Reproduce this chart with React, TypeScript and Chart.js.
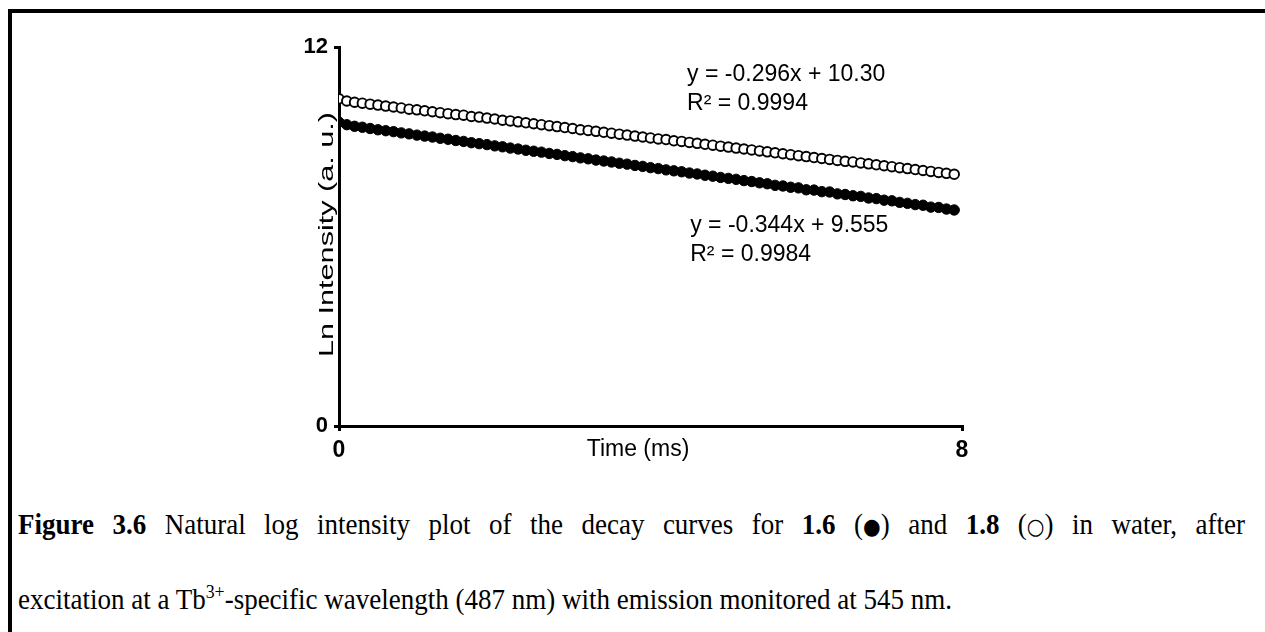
import React, { useEffect, useRef } from "react";
import { Chart, registerables } from "chart.js";

Chart.register(...registerables);

const timeMs = [
  0.0, 0.1, 0.2, 0.3, 0.4, 0.5, 0.6, 0.7, 0.8, 0.9,
  1.0, 1.1, 1.2, 1.3, 1.4, 1.5, 1.6, 1.7, 1.8, 1.9,
  2.0, 2.1, 2.2, 2.3, 2.4, 2.5, 2.6, 2.7, 2.8, 2.9,
  3.0, 3.1, 3.2, 3.3, 3.4, 3.5, 3.6, 3.7, 3.8, 3.9,
  4.0, 4.1, 4.2, 4.3, 4.4, 4.5, 4.6, 4.7, 4.8, 4.9,
  5.0, 5.1, 5.2, 5.3, 5.4, 5.5, 5.6, 5.7, 5.8, 5.9,
  6.0, 6.1, 6.2, 6.3, 6.4, 6.5, 6.6, 6.7, 6.8, 6.9,
  7.0, 7.1, 7.2, 7.3, 7.4, 7.5, 7.6, 7.7, 7.8, 7.9,
];

// 1.8 (open circles)
const lnIntensityOpen = [
  10.36, 10.29, 10.25, 10.22, 10.19, 10.16, 10.13, 10.10, 10.07, 10.03,
  10.01, 9.98, 9.95, 9.92, 9.89, 9.86, 9.84, 9.80, 9.78, 9.75,
  9.72, 9.68, 9.66, 9.63, 9.60, 9.57, 9.54, 9.51, 9.48, 9.45,
  9.42, 9.38, 9.36, 9.33, 9.30, 9.27, 9.24, 9.21, 9.18, 9.15,
  9.12, 9.09, 9.07, 9.03, 9.01, 8.98, 8.95, 8.92, 8.89, 8.86,
  8.83, 8.80, 8.77, 8.74, 8.71, 8.68, 8.65, 8.62, 8.59, 8.56,
  8.53, 8.50, 8.47, 8.44, 8.41, 8.38, 8.36, 8.33, 8.30, 8.27,
  8.24, 8.21, 8.18, 8.15, 8.12, 8.09, 8.06, 8.03, 8.00, 7.97,
];

// 1.6 (filled circles)
const lnIntensityFilled = [
  9.62, 9.54, 9.49, 9.46, 9.42, 9.38, 9.35, 9.32, 9.28, 9.25,
  9.21, 9.18, 9.15, 9.11, 9.08, 9.04, 9.01, 8.97, 8.94, 8.91,
  8.87, 8.84, 8.80, 8.77, 8.73, 8.70, 8.67, 8.63, 8.60, 8.56,
  8.53, 8.49, 8.46, 8.42, 8.39, 8.36, 8.32, 8.29, 8.25, 8.22,
  8.18, 8.15, 8.11, 8.08, 8.05, 8.01, 7.98, 7.94, 7.91, 7.87,
  7.84, 7.81, 7.77, 7.74, 7.70, 7.67, 7.62, 7.60, 7.56, 7.54,
  7.48, 7.47, 7.42, 7.41, 7.35, 7.33, 7.29, 7.27, 7.22, 7.20,
  7.15, 7.13, 7.08, 7.05, 7.01, 6.99, 6.93, 6.92, 6.87, 6.84,
];

const xTicks = [0, 8];
const yTicks = [0, 12];
const xTitle = "Time (ms)";
const yTitle = "Ln Intensity (a. u.)";

const fitLabels = [
  { lines: ["y = -0.296x + 10.30", "R² = 0.9994"], x: 4.47, y: 11.12 },
  { lines: ["y = -0.344x + 9.555", "R² = 0.9984"], x: 4.51, y: 6.34 },
];

const ARIAL = "Arial, 'Liberation Sans', sans-serif";

const textPlugin = {
  id: "texts",
  afterDatasetsDraw(chart: any) {
    const { ctx, scales, chartArea } = chart;
    ctx.save();
    ctx.fillStyle = "#000";
    // equations
    ctx.font = `23px ${ARIAL}`;
    ctx.textBaseline = "middle";
    ctx.textAlign = "left";
    fitLabels.forEach((f) => {
      const px = scales.x.getPixelForValue(f.x);
      const py = scales.y.getPixelForValue(f.y);
      f.lines.forEach((t, i) => ctx.fillText(t, px, py + i * 29));
    });
    // x title
    ctx.textAlign = "center";
    ctx.fillText(xTitle, scales.x.getPixelForValue(3.84), chartArea.bottom + 24);
    // y title (stretched along its length, as in the reference)
    ctx.font = `20px ${ARIAL}`;
    const w = ctx.measureText(yTitle).width;
    ctx.translate(chartArea.left - 6, (chartArea.top + chartArea.bottom) / 2 - 2);
    ctx.rotate(-Math.PI / 2);
    ctx.scale(245 / w, 1);
    ctx.textBaseline = "alphabetic";
    ctx.fillText(yTitle, 0, 0);
    ctx.restore();
  },
};

export default function App() {
  const ref = useRef<HTMLCanvasElement>(null);

  useEffect(() => {
    document.body.style.overflow = "hidden";
    const chart = new Chart(ref.current!, {
      type: "scatter",
      data: {
        datasets: [
          {
            label: "1.8",
            data: timeMs.map((t, i) => ({ x: t, y: lnIntensityOpen[i] })),
            pointStyle: "circle",
            pointRadius: 4.8,
            pointBorderWidth: 1.9,
            pointBackgroundColor: "#ffffff",
            pointBorderColor: "#000000",
          },
          {
            label: "1.6",
            data: timeMs.map((t, i) => ({ x: t, y: lnIntensityFilled[i] })),
            pointStyle: "circle",
            pointRadius: 5.2,
            pointBorderWidth: 1,
            pointBackgroundColor: "#000000",
            pointBorderColor: "#000000",
          },
        ],
      },
      options: {
        animation: false,
        responsive: false,
        events: [],
        layout: { padding: { left: 279, right: 303, top: 47, bottom: 34 } },
        plugins: { legend: { display: false }, tooltip: { enabled: false } },
        scales: {
          x: {
            type: "linear",
            min: 0,
            max: 8,
            afterBuildTicks: (s: any) => {
              s.ticks = xTicks.map((v) => ({ value: v }));
            },
            afterFit: (s: any) => {
              s.height = 40;
            },
            grid: { display: true, drawOnChartArea: false, drawTicks: true, tickLength: 5, color: "#000", lineWidth: 3 },
            border: { display: true, color: "#000", width: 3 },
            ticks: { color: "#000", font: { family: ARIAL, size: 23, weight: "bold" }, padding: 6, maxRotation: 0 },
            title: { display: false },
          },
          y: {
            type: "linear",
            min: 0,
            max: 12,
            afterBuildTicks: (s: any) => {
              s.ticks = yTicks.map((v) => ({ value: v }));
            },
            afterFit: (s: any) => {
              s.width = 60;
            },
            grid: { display: true, drawOnChartArea: false, drawTicks: true, tickLength: 5, color: "#000", lineWidth: 3 },
            border: { display: true, color: "#000", width: 3 },
            ticks: { color: "#000", font: { family: ARIAL, size: 22, weight: "bold" }, padding: 6 },
            title: { display: false },
          },
        },
      },
      plugins: [textPlugin],
    });
    return () => chart.destroy();
  }, []);

  const serif = "'Times New Roman', 'Liberation Serif', serif";
  const sym: React.CSSProperties = { display: "inline-block" };
  const glyph: React.CSSProperties = { fontFamily: "'DejaVu Sans', sans-serif", fontSize: "0.75em" };
  const line: React.CSSProperties = {
    position: "absolute",
    left: 18,
    fontFamily: serif,
    fontSize: 27,
    lineHeight: "30px",
    whiteSpace: "nowrap",
    color: "#000",
    transform: "scaleY(1.1)",
    transformOrigin: "0 24px",
  };
  return (
    <div style={{ position: "absolute", left: 0, top: 0, width: 1265, height: 632, overflow: "hidden", background: "#fff" }}>
      <div
        style={{
          position: "absolute",
          left: 8,
          top: 9,
          width: 1265,
          height: 700,
          borderTop: "4px solid #000",
          borderLeft: "4px solid #000",
          boxSizing: "border-box",
        }}
      />
      <canvas ref={ref} width={1265} height={500} style={{ position: "absolute", left: 0, top: 0 }} />
      <div style={{ ...line, top: 510, width: 1227, textAlign: "justify", textAlignLast: "justify" as any }}>
        <b>Figure 3.6</b> Natural log intensity plot of the decay curves for <b>1.6</b>{" "}
        <span style={sym}>(<span style={glyph}>●</span>)</span> and <b>1.8</b>{" "}
        <span style={sym}>(<span style={glyph}>○</span>)</span> in water, after
      </div>
      <div style={{ ...line, top: 577 }}>
        excitation at a Tb<span style={{ fontSize: "0.66em", verticalAlign: "10px" }}>3+</span>-specific wavelength (487 nm) with emission monitored at 545 nm.
      </div>
    </div>
  );
}
